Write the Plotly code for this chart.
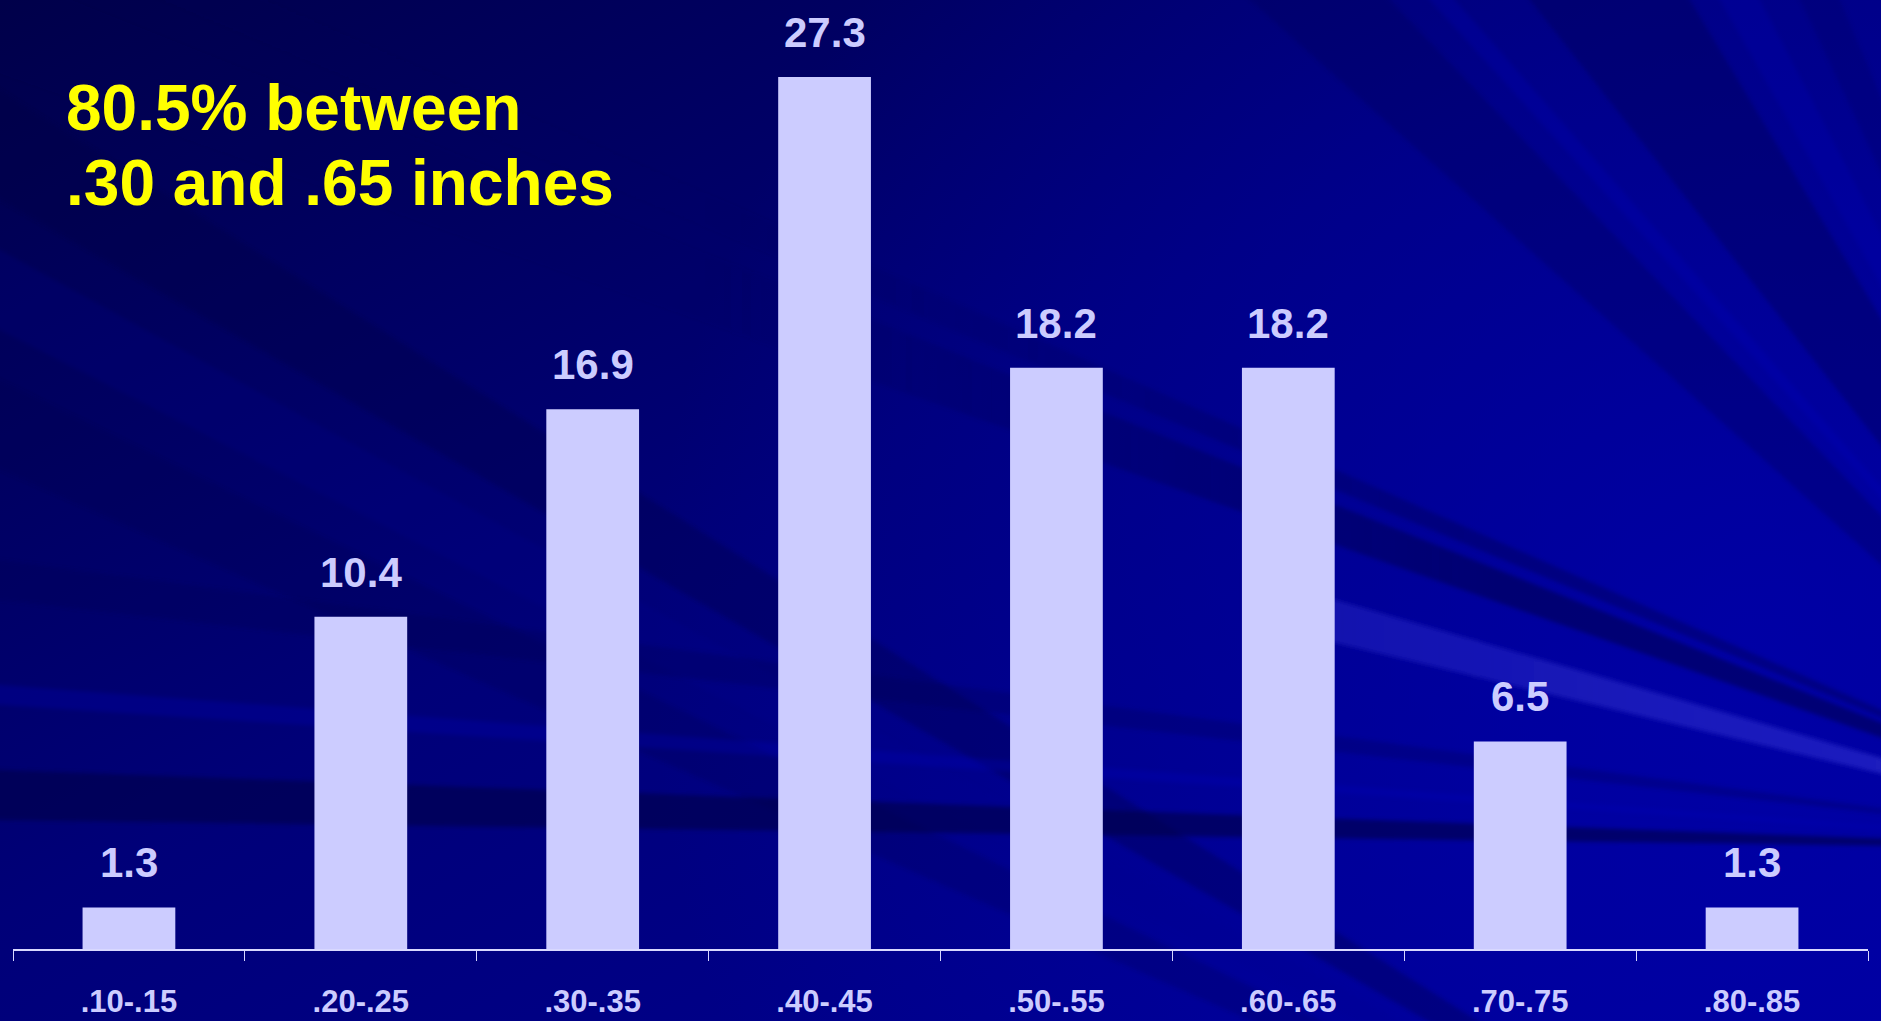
import math
import base64
import plotly.graph_objects as go

# ---------------- data ----------------
categories = [".10-.15", ".20-.25", ".30-.35", ".40-.45", ".50-.55", ".60-.65", ".70-.75", ".80-.85"]
percentages = [1.3, 10.4, 16.9, 27.3, 18.2, 18.2, 6.5, 1.3]
value_labels = ["1.3", "10.4", "16.9", "27.3", "18.2", "18.2", "6.5", "1.3"]
headline_lines = ["80.5% between", ".30 and .65 inches"]

# ---------------- geometry / style ----------------
W, H = 1881, 1021
ML, MR, MT, MB = 13, 13, 0, 72
PLOT_W = W - ML - MR
PLOT_H = H - MT - MB
Y_MAX = 29.71

BAR_COLOR = "#CCCCFF"
TEXT_COLOR = "#CCCCFF"
HEAD_COLOR = "#FFFF00"
FONT = "Liberation Sans, Arial, Helvetica, sans-serif"


# ---------------- decorative background (SVG) ----------------
def wedge(c, p1, p2, fill, op, R=6000):
    cx, cy = c
    a1 = math.atan2(p1[1] - cy, p1[0] - cx)
    a2 = math.atan2(p2[1] - cy, p2[0] - cx)
    pts = [(cx, cy),
           (cx + R * math.cos(a1), cy + R * math.sin(a1)),
           (cx + R * math.cos(a2), cy + R * math.sin(a2))]
    s = " ".join(f"{x:.1f},{y:.1f}" for x, y in pts)
    return f'<polygon points="{s}" fill="{fill}" fill-opacity="{op}" filter="url(#bl)"/>'


C1 = (2200, 850)
C2 = (2000, 1350)
parts = []
parts.append(f'<svg xmlns="http://www.w3.org/2000/svg" width="{W}" height="{H}" viewBox="0 0 {W} {H}">')
parts.append('<defs>'
             '<linearGradient id="bg" x1="0" y1="0" x2="1" y2="1">'
             '<stop offset="0" stop-color="#00004A"/>'
             '<stop offset="0.45" stop-color="#000078"/>'
             '<stop offset="1" stop-color="#000098"/>'
             '</linearGradient>'
             '<radialGradient id="glow" cx="1750" cy="650" r="1100" gradientUnits="userSpaceOnUse">'
             '<stop offset="0" stop-color="#0000B0" stop-opacity="0.7"/>'
             '<stop offset="1" stop-color="#0000B0" stop-opacity="0"/>'
             '</radialGradient>'
             '<linearGradient id="streak" x1="1240" y1="0" x2="1881" y2="0" gradientUnits="userSpaceOnUse">'
             '<stop offset="0" stop-color="#3030D0" stop-opacity="0"/>'
             '<stop offset="0.15" stop-color="#3030D0" stop-opacity="0.4"/>'
             '<stop offset="1" stop-color="#3030D0" stop-opacity="0.6"/>'
             '</linearGradient>'
             '<linearGradient id="darkstreak" x1="700" y1="0" x2="1500" y2="0" gradientUnits="userSpaceOnUse">'
             '<stop offset="0" stop-color="#000050" stop-opacity="0.05"/>'
             '<stop offset="1" stop-color="#000050" stop-opacity="0.55"/>'
             '</linearGradient>'
             '<filter id="bl" x="-10%" y="-10%" width="120%" height="120%"><feGaussianBlur stdDeviation="2"/></filter>'
             '</defs>')
parts.append(f'<rect x="0" y="0" width="{W}" height="{H}" fill="url(#bg)"/>')
parts.append(f'<rect x="0" y="0" width="{W}" height="{H}" fill="url(#glow)"/>')
# upper-left diagonal bands
parts.append(wedge(C2, (0, 90), (0, 200), "#000040", 0.3))
parts.append(wedge(C2, (0, 250), (0, 330), "#000090", 0.2))
parts.append(wedge(C2, (0, 380), (0, 470), "#000045", 0.2))
# top-right steep bands
parts.append(wedge(C1, (1250, 0), (1390, 0), "#000055", 0.3))
parts.append(wedge(C1, (1430, 0), (1455, 0), "#0A10C8", 0.2))
parts.append(wedge(C1, (1530, 0), (1690, 0), "#000050", 0.35))
parts.append(wedge(C1, (1720, 0), (1760, 0), "#0A10C8", 0.18))
parts.append(wedge(C1, (1800, 0), (1840, 0), "#000060", 0.25))
# right-middle streaks (fade out towards the left)
parts.append(wedge(C1, (1336, 470), (1336, 490), "url(#darkstreak)", 0.7))
parts.append(wedge(C1, (1336, 505), (1336, 545), "url(#darkstreak)", 1.0))
parts.append(wedge(C1, (1336, 600), (1336, 643), "url(#streak)", 1.0))
# left horizontal bands
parts.append(wedge(C1, (0, 560), (0, 600), "#000050", 0.25))
parts.append(wedge(C1, (0, 685), (0, 705), "#0810C0", 0.25))
parts.append(wedge(C1, (0, 770), (0, 820), "#000048", 0.6))
parts.append('</svg>')
svg = "".join(parts)
bg_uri = "data:image/svg+xml;base64," + base64.b64encode(svg.encode("utf-8")).decode("ascii")

# ---------------- figure ----------------
fig = go.Figure()
fig.add_trace(go.Bar(
    x=categories,
    y=percentages,
    marker=dict(color=BAR_COLOR, line=dict(width=0)),
    hoverinfo="x+y",
    showlegend=False,
))

annotations = []
for cat, val, lab in zip(categories, percentages, value_labels):
    annotations.append(dict(
        x=cat, y=val, xref="x", yref="y",
        text=lab, showarrow=False,
        xanchor="center", yanchor="bottom", yshift=19,
        font=dict(family=FONT, size=42, color=TEXT_COLOR, weight="bold"),
    ))

# headline, one annotation per line (tighter line spacing than <br>)
head_tops = [70, 145]
for line, top in zip(headline_lines, head_tops):
    annotations.append(dict(
        x=(64 - ML) / PLOT_W, y=1 - top / PLOT_H, xref="paper", yref="paper",
        text=line, showarrow=False, align="left",
        xanchor="left", yanchor="top",
        font=dict(family=FONT, size=64, color=HEAD_COLOR, weight="bold"),
    ))

fig.update_layout(
    width=W, height=H,
    margin=dict(l=ML, r=MR, t=MT, b=MB, pad=0),
    paper_bgcolor="#000080",
    plot_bgcolor="rgba(0,0,0,0)",
    bargap=0.6,
    annotations=annotations,
    images=[dict(
        source=bg_uri, xref="paper", yref="paper",
        x=-ML / PLOT_W, y=1 + MT / PLOT_H,
        sizex=W / PLOT_W, sizey=H / PLOT_H,
        xanchor="left", yanchor="top", sizing="stretch", layer="below",
    )],
    xaxis=dict(
        type="category",
        showline=True, linecolor="#D8D8FF", linewidth=2,
        ticks="outside", tickson="boundaries", ticklen=10, tickwidth=1, tickcolor="#D8D8FF",
        showgrid=False, zeroline=False,
        tickfont=dict(family=FONT, size=31, color=TEXT_COLOR, weight="bold"),
        ticklabelstandoff=24,
        range=[-0.5, len(categories) - 0.5],
    ),
    yaxis=dict(
        range=[0, Y_MAX], visible=False, showgrid=False, zeroline=False,
    ),
)

fig.write_html(
    "out.html",
    config={"displayModeBar": False},
    post_script="document.body.style.margin='0';document.body.style.overflow='hidden';",
)
